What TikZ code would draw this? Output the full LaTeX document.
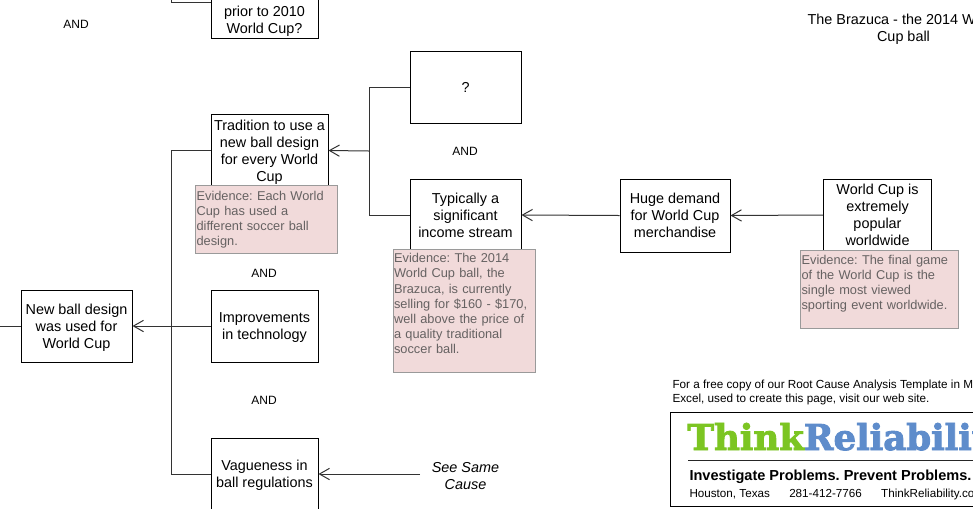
\documentclass[tikz,border=0pt]{standalone}
\usepackage{fontspec}
\setmainfont{Liberation Sans}
\newfontfamily\logofont[BoldFeatures={FakeBold=2.5}]{DejaVu Serif}
\usetikzlibrary{arrows.meta}
\definecolor{evidencepink}{HTML}{F1DADA}
\definecolor{evidenceline}{HTML}{9A9A9A}
\definecolor{evidencetext}{HTML}{666262}
\definecolor{logogreen}{HTML}{7CC522}
\definecolor{logoblue}{HTML}{5E8CCB}
\def\pxsize{0.75pt}

\begin{document}
\frenchspacing
\begin{tikzpicture}[x=\pxsize,y=-\pxsize,>={Straight Barb[length=7.5pt,width=8.5pt]},line width=\pxsize,draw=black!85]
    \tikzstyle{cause}=[draw=black,fill=white,rectangle,inner sep=0pt,align=center,text depth=0pt,font=\fontsize{10.8}{12.8}\selectfont]
    \tikzstyle{plain text}=[cause,draw=none,fill=none]
    \tikzstyle{evidence}=[draw=evidenceline,fill=evidencepink,rectangle,inner xsep=0.8pt,inner ysep=0.8pt,align=left,anchor=north west,text=evidencetext,font=\fontsize{9.6}{11.3}\selectfont]
    \tikzstyle{annot}=[font=\fontsize{9}{10}\selectfont,align=center]
    \tikzstyle{link}=[draw=black!80]

    \useasboundingbox (0,0) rectangle (973,508);
    \clip (0,0) rectangle (973,508);

    % Draw the cause boxes
    \node[cause,minimum width=107*\pxsize,minimum height=72*\pxsize] (C-top) at (264.5,2) {};
    \node[cause,minimum width=111*\pxsize,minimum height=72*\pxsize] (C-unknown) at (465.5,87) {?};
    \node[cause,minimum width=117*\pxsize,minimum height=72*\pxsize] (C-tradition) at (269.5,150.5) {Tradition to use a\\new ball design\\for every World\\Cup};
    \node[cause,minimum width=111*\pxsize,minimum height=72*\pxsize] (C-income) at (465.5,215) {Typically a\\significant\\income stream};
    \node[cause,minimum width=110*\pxsize,minimum height=73*\pxsize] (C-demand) at (675,215.5) {Huge demand\\for World Cup\\merchandise};
    \node[cause,minimum width=108*\pxsize,minimum height=72*\pxsize] (C-popular) at (877.5,215) {World Cup is\\extremely\\popular\\worldwide};
    \node[cause,minimum width=111*\pxsize,minimum height=72*\pxsize] (C-newball) at (76.5,326) {New ball design\\was used for\\World Cup};
    \node[cause,minimum width=107*\pxsize,minimum height=72*\pxsize] (C-tech) at (264.5,326) {Improvements\\in technology};
    \node[cause,minimum width=107*\pxsize,minimum height=72*\pxsize] (C-vague) at (264.5,474) {Vagueness in\\ball regulations};
    \node[plain text] (T-top) at (264.5,19.5) {prior to 2010\\World Cup?};

    % Free ends of the connectors
    \coordinate (J-left) at (171,326);
    \coordinate (J-right) at (369,151);
    \coordinate (E-newball) at (0,326);
    \coordinate (E-top) at (171,0);
    \coordinate (E-same) at (420,474);

    % Connect the causes
    \draw[link] (C-newball.west) -- (E-newball);
    \draw[link,->] (J-left) -- (C-newball.east);
    \draw[link] (C-tech.west) -- (J-left);
    \draw[link] (C-tradition.west) -| (J-left);
    \draw[link] (C-vague.west) -| (J-left);
    \draw[link] (C-top.west) -| (E-top);
    \draw[link,->] (J-right) -- (C-tradition.east);
    \draw[link] (C-unknown.west) -| (J-right);
    \draw[link] (C-income.west) -| (J-right);
    \draw[link,->] (C-demand.west) -- (C-income.east);
    \draw[link,->] (C-popular.west) -- (C-demand.east);
    \draw[link,->] (E-same) -- (C-vague.east);

    % Evidence notes
    \node[evidence,minimum width=142*\pxsize,minimum height=68*\pxsize,text width=140*\pxsize] (N-tradition) at (195,185) {Evidence: Each World\\Cup has used a\\different soccer ball\\design.};
    \node[evidence,minimum width=142*\pxsize,minimum height=123*\pxsize,text width=140*\pxsize] (N-income) at (392.5,249) {Evidence: The 2014\\World Cup ball, the\\Brazuca, is currently\\selling for \$160 - \$170,\\well above the price of\\a quality traditional\\soccer ball.\\~};
    \node[evidence,minimum width=158*\pxsize,minimum height=78*\pxsize,text width=156*\pxsize] (N-popular) at (800,250) {Evidence: The final game\\of the World Cup is the\\single most viewed\\sporting event worldwide.\\~};

    % Annotate
    \node[annot] (A-1) at (76,24) {AND};
    \node[annot] (A-2) at (465,151) {AND};
    \node[annot] (A-3) at (264,273) {AND};
    \node[annot] (A-4) at (264,400) {AND};
    \node[plain text,font=\fontsize{10.8}{12.8}\selectfont\itshape] (S-same) at (465.5,476) {See Same\\Cause};
    \node[plain text] (B-ball) at (903.5,28) {The Brazuca - the 2014 World\\Cup ball};

    % Logo panel
    \node[annot,anchor=north west,align=left,font=\fontsize{8.8}{10.7}\selectfont,inner sep=0pt] (W-copy) at (672,379) {For a free copy of our Root Cause Analysis Template in Microsoft\\Excel, used to create this page, visit our web site.};
    \node[draw=black,fill=white,minimum width=330*\pxsize,minimum height=94*\pxsize,anchor=north west,inner sep=0pt] (L-box) at (670,412) {};
    \node[anchor=base west,inner sep=0pt,font=\logofont\bfseries\fontsize{26.7}{27}\selectfont] (L-name) at (687,450) {\textcolor{logogreen}{Think}\textcolor{logoblue}{Reliability}};
    \coordinate (L-a) at (688,460);
    \coordinate (L-b) at (985,460);
    \draw (L-a) -- (L-b);
    \node[anchor=base west,inner sep=0pt,font=\bfseries\fontsize{10.9}{12}\selectfont] (L-slogan) at (689,480) {Investigate Problems. Prevent Problems.};
    \node[anchor=base west,inner sep=0pt,font=\fontsize{8.75}{10}\selectfont] (L-addr) at (689,497) {Houston, Texas\hspace{14.5pt}281-412-7766\hspace{14.5pt}ThinkReliability.com};
\end{tikzpicture}
\end{document}
